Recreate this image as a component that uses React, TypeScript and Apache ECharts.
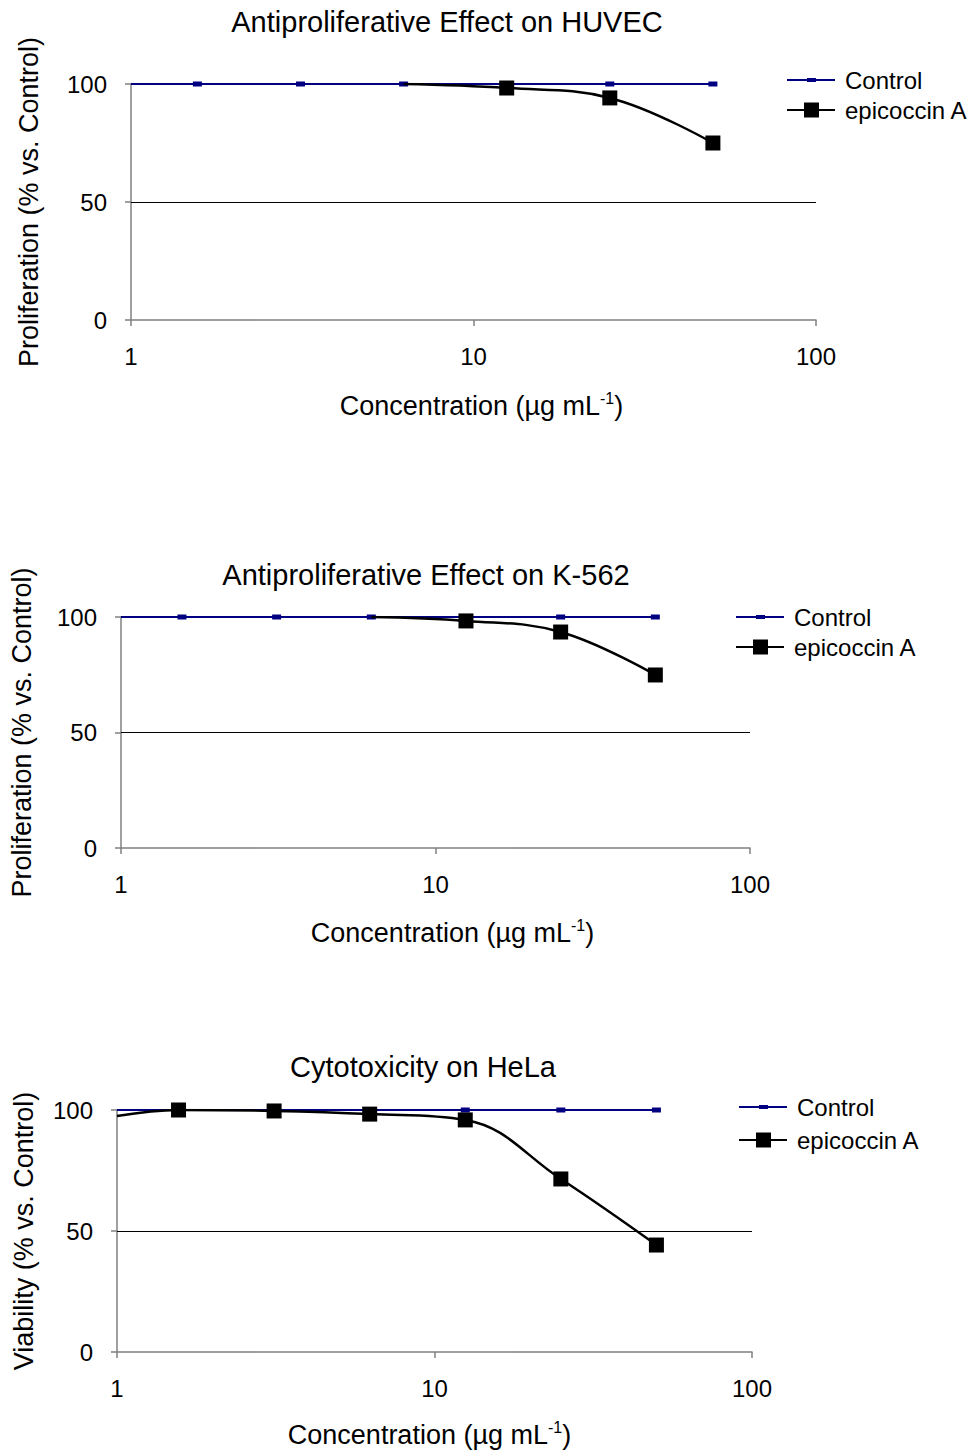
import React, { useEffect, useRef } from "react";
import * as echarts from "echarts";

// ---- data ----
const controlConc = [1, 1.5625, 3.125, 6.25, 12.5, 25, 50];
const controlValues = [100, 100, 100, 100, 100, 100, 100];
const huvecConc = [6.25, 12.5, 25, 50];
const huvecValues = [100, 98.3, 94.1, 75.0];
const k562Conc = [6.25, 12.5, 25, 50];
const k562Values = [100, 98.3, 93.5, 74.9];
const helaConc = [1, 1.5625, 3.125, 6.25, 12.5, 25, 50];
const helaValues = [97.5, 100, 99.6, 98.3, 95.9, 71.5, 44.2];
// points drawn without a marker (line only)
const hiddenMarkerConc = { control: [1], huvec: [6.25], k562: [6.25], hela: [1] };
const titles = ["Antiproliferative Effect on HUVEC", "Antiproliferative Effect on K-562", "Cytotoxicity on HeLa"];
const yNames = ["Proliferation (% vs. Control)", "Proliferation (% vs. Control)", "Viability (% vs. Control)"];
const xName = "Concentration (\u00b5g mL{sup|-1})";
const seriesNames = ["Control", "epicoccin A"];
const xMin = 1;
const xMax = 100;
const yMin = 0;
const yMax = 100;
const yInterval = 50;
const gridLineValue = 50;

const FONT = "'Liberation Sans', Arial, sans-serif";

const layouts = [
  { left: 131, top: 84, width: 685, height: 236, title: [447, 22], xGap: 70, xPad: [0, 0, 0, 16], yGap: 89, yPad: [0, 0, 0, 10], legend: [787, 68], legendGap: 6 },
  { left: 121, top: 617, width: 629, height: 231, title: [426, 575], xGap: 69, xPad: [0, 0, 0, 34], yGap: 86, yPad: [0, 0, 0, 0], legend: [736, 605], legendGap: 6 },
  { left: 117, top: 1110, width: 635, height: 242, title: [423, 1067], xGap: 67, xPad: [0, 10, 0, 0], yGap: 80, yPad: [0, 0, 0, 0], legend: [739, 1095], legendGap: 9 },
];

const epiSets = [
  { conc: huvecConc, vals: huvecValues, hidden: hiddenMarkerConc.huvec },
  { conc: k562Conc, vals: k562Values, hidden: hiddenMarkerConc.k562 },
  { conc: helaConc, vals: helaValues, hidden: hiddenMarkerConc.hela },
];

function toPoints(conc: number[], vals: number[], hidden: number[]) {
  return conc.map((c, i) =>
    hidden.indexOf(c) >= 0 ? { value: [c, vals[i]], symbol: "none" } : { value: [c, vals[i]] }
  );
}

const controlIcon = "path://M0,7 H48 V9 H0 Z M20,6 H29 V10 H20 Z";
const epiIcon = "path://M0,6.5 H48 V8.5 H0 Z M17,0 H32 V15 H17 Z";

export default function App() {
  const ref = useRef<HTMLDivElement>(null);
  useEffect(() => {
    if (!ref.current) return;
    const chart = echarts.init(ref.current, undefined, { renderer: "svg" });
    const grids: any[] = [];
    const xAxes: any[] = [];
    const yAxes: any[] = [];
    const series: any[] = [];
    const legends: any[] = [];
    const graphics: any[] = [];
    layouts.forEach((L, i) => {
      grids.push({ left: L.left, top: L.top, width: L.width, height: L.height, containLabel: false });
      xAxes.push({
        type: "log",
        logBase: 10,
        gridIndex: i,
        min: xMin,
        max: xMax,
        axisLine: { show: true, onZero: false, lineStyle: { color: "#808080", width: 1.5 } },
        axisTick: { show: true, length: 6, lineStyle: { color: "#808080", width: 1.5 } },
        minorTick: { show: false },
        splitLine: { show: false },
        axisLabel: { fontSize: 24, color: "#000", margin: 24, fontFamily: FONT },
        name: xName,
        nameLocation: "middle",
        nameGap: L.xGap,
        nameTextStyle: {
          fontSize: 27,
          color: "#000",
          fontFamily: FONT,
          lineHeight: 31,
          padding: L.xPad,
          rich: { sup: { fontSize: 16, lineHeight: 16, verticalAlign: "top", color: "#000", fontFamily: FONT } },
        },
      });
      yAxes.push({
        type: "value",
        gridIndex: i,
        min: yMin,
        max: yMax,
        interval: yInterval,
        axisLine: { show: true, lineStyle: { color: "#808080", width: 1.5 } },
        axisTick: { show: true, length: 6, lineStyle: { color: "#808080", width: 1.5 } },
        splitLine: { show: false },
        axisLabel: { fontSize: 24, color: "#000", margin: 24, fontFamily: FONT },
        name: yNames[i],
        nameLocation: "middle",
        nameGap: L.yGap,
        nameTextStyle: { fontSize: 27, color: "#000", fontFamily: FONT },
      });
      series.push({
        name: seriesNames[0],
        type: "line",
        xAxisIndex: i,
        yAxisIndex: i,
        data: toPoints(controlConc, controlValues, hiddenMarkerConc.control),
        symbol: "rect",
        symbolSize: [9, 5],
        showSymbol: true,
        itemStyle: { color: "#000080" },
        lineStyle: { color: "#000080", width: 2.2 },
        z: 2,
        markLine: {
          silent: true,
          symbol: ["none", "none"],
          label: { show: false },
          lineStyle: { color: "#000", width: 1, type: "solid" },
          data: [{ yAxis: gridLineValue }],
          z: 1,
        },
      });
      const e = epiSets[i];
      series.push({
        name: seriesNames[1],
        type: "line",
        xAxisIndex: i,
        yAxisIndex: i,
        data: toPoints(e.conc, e.vals, e.hidden),
        symbol: "rect",
        symbolSize: 15,
        smooth: 0.4,
        itemStyle: { color: "#000" },
        lineStyle: { color: "#000", width: 2.5 },
        z: 3,
      });
      legends.push({
        left: L.legend[0],
        top: L.legend[1],
        orient: "vertical",
        padding: 0,
        itemWidth: 48,
        itemHeight: 16,
        itemGap: L.legendGap,
        selectedMode: false,
        textStyle: { fontSize: 24, color: "#000", fontFamily: FONT, padding: [0, 0, 0, 5] },
        data: [
          { name: seriesNames[0], icon: controlIcon },
          { name: seriesNames[1], icon: epiIcon },
        ],
      });
      graphics.push({
        type: "text",
        x: L.title[0],
        y: L.title[1],
        style: {
          text: titles[i],
          fill: "#000",
          fontSize: 29,
          fontFamily: FONT,
          align: "center",
          verticalAlign: "middle",
        },
      });
    });
    chart.setOption({
      animation: false,
      backgroundColor: "#fff",
      grid: grids,
      xAxis: xAxes,
      yAxis: yAxes,
      series,
      legend: legends,
      graphic: graphics,
    });
    return () => chart.dispose();
  }, []);
  return (
    <div
      ref={ref}
      style={{ position: "absolute", left: 0, top: 0, width: 973, height: 1452, background: "#fff" }}
    />
  );
}
